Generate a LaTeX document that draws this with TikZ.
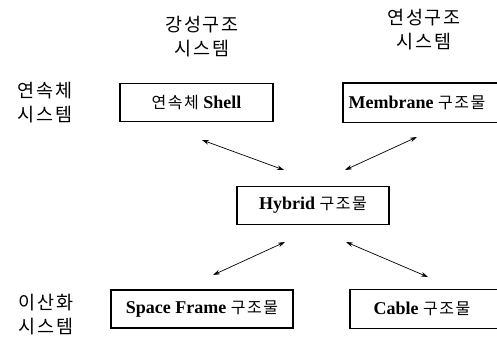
\documentclass[tikz,border=0pt]{standalone}
\usepackage{fontspec}
\setmainfont{Liberation Serif}
\newfontfamily\kr{Noto Sans CJK KR}[LetterSpace=10]
\usetikzlibrary{arrows.meta}

\newcommand{\krbox}[1]{{\kr\mdseries\fontsize{16}{18}\selectfont #1}}

\begin{document}
\begin{tikzpicture}[x=1pt,y=-1pt,
  sysbox/.style={draw=black, line width=1.2pt, minimum height=38pt, inner sep=0pt,
                 font=\fontsize{18}{20}\selectfont\bfseries},
  openbox/.style={sysbox, draw=none, anchor=west},
  boxedge/.style={line width=1.2pt},
  axislabel/.style={font=\kr\fontsize{18.5}{24}\selectfont, align=center, inner sep=0pt},
  link/.style={{Stealth[length=7pt,width=4.5pt]}-{Stealth[length=7pt,width=4.5pt]}, line width=0.7pt}
]
\useasboundingbox (0,0) rectangle (497,338);

% axis labels
\node[axislabel] (rigid)    at (202,37)  {강성구조\\시스템};
\node[axislabel] (flexible) at (424,30)  {연성구조\\시스템};
\node[axislabel] (cont)     at (45,103)  {연속체\\시스템};
\node[axislabel] (disc)     at (46,315)  {이산화\\시스템};

% structure boxes
\node[sysbox, minimum width=153pt] (shell)  at (196.5,102.5) {\krbox{연속체} Shell};
\node[openbox, inner xsep=5pt] (membr) at (343,102.5) {Membrane \krbox{구조물}};
\node[sysbox, minimum width=152pt] (hybrid) at (313,205.5)   {Hybrid \krbox{구조물}};
\node[sysbox, minimum width=182pt] (space)  at (202,309)     {Space Frame \krbox{구조물}};
\node[openbox, inner xsep=23pt] (cable) at (350,309) {Cable \krbox{구조물}};

% the two right-hand boxes stay open on the right
\draw[boxedge] (membr.north west) ++(154,0) -- (membr.north west) -- (membr.south west) -- ++(154,0);
\draw[boxedge] (cable.north west) ++(147,0) -- (cable.north west) -- (cable.south west) -- ++(147,0);

% free arrow ends placed around the hybrid box
\coordinate (a1s) at (202,140);  \coordinate (a1e) at (284,170);
\coordinate (a2s) at (345,170);  \coordinate (a2e) at (417,137);
\coordinate (a3s) at (285,242);  \coordinate (a3e) at (213,275);
\coordinate (a4s) at (346,242);  \coordinate (a4e) at (428,277);

\draw[link] (a1s) -- (a1e);
\draw[link] (a2s) -- (a2e);
\draw[link] (a3s) -- (a3e);
\draw[link] (a4s) -- (a4e);
\end{tikzpicture}
\end{document}
